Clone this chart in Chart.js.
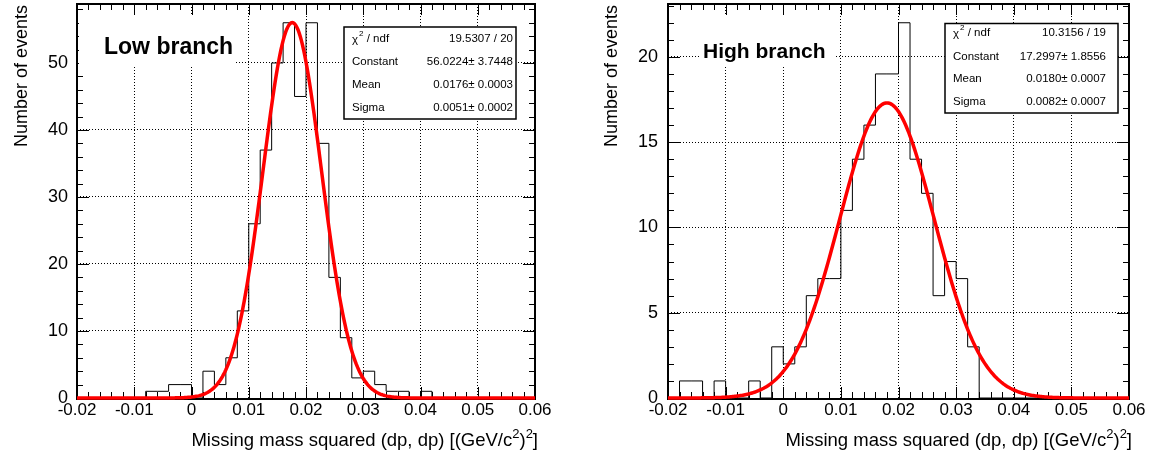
<!DOCTYPE html>
<html>
<head>
<meta charset="utf-8">
<script src="https://cdn.jsdelivr.net/npm/chart.js@4.4.1/dist/chart.umd.min.js"></script>
<style>
  html, body { margin: 0; padding: 0; background: #fff; }
  #wrap { position: relative; width: 1163px; height: 455px; overflow: hidden; }
  canvas { position: absolute; top: 0; }
</style>
</head>
<body>
<div id="wrap">
  <canvas id="low" width="590" height="455" style="left:0px"></canvas>
  <canvas id="high" width="573" height="455" style="left:590px"></canvas>
</div>
<script>
// Histogram binning: 40 bins of 0.002 from -0.02 to 0.06
const binStart = -0.02;
const binWidth = 0.002;

// Event counts per bin
const lowCounts  = [0,0,0,0,0,0,1,1,2,2, 0,4,2,6,13,26,37,50,56,45, 56,38,18,9,3,4,2,1,1,0, 1,0,0,0,0,0,0,0,0,0];
const highCounts = [0,1,1,0,1,0,0,1,0,3, 2,3,6,7,7,11,14,16,19,19, 22,14,12,6,8,7,3,0,0,0, 0,0,0,0,0,0,0,0,0,0];

// Gaussian fit results
const lowFit  = { constant: 56.0224, mean: 0.0176, sigma: 0.0051 };
const highFit = { constant: 17.2997, mean: 0.0180, sigma: 0.0082 };

// Fit statistics boxes
const lowStats  = [['chi2', '19.5307 / 20'], ['Constant', '56.0224\u00b1 3.7448'], ['Mean', '0.0176\u00b1 0.0003'], ['Sigma', '0.0051\u00b1 0.0002']];
const highStats = [['chi2', '10.3156 / 19'], ['Constant', '17.2997\u00b1 1.8556'], ['Mean', '0.0180\u00b1 0.0007'], ['Sigma', '0.0082\u00b1 0.0007']];

// Axis ticks
const xTickValues = [-0.02, -0.01, 0, 0.01, 0.02, 0.03, 0.04, 0.05, 0.06];
const xTickLabels = ['-0.02', '-0.01', '0', '0.01', '0.02', '0.03', '0.04', '0.05', '0.06'];
const lowYTickValues  = [0, 10, 20, 30, 40, 50];
const lowYTickLabels  = ['0', '10', '20', '30', '40', '50'];
const highYTickValues = [0, 5, 10, 15, 20];
const highYTickLabels = ['0', '5', '10', '15', '20'];

const FONT = '"Liberation Sans", Arial, Helvetica, sans-serif';

function histogramPoints(counts) {
  const pts = [{ x: binStart, y: 0 }];
  counts.forEach((c, i) => pts.push({ x: binStart + i * binWidth, y: c }));
  const end = binStart + counts.length * binWidth;
  pts.push({ x: end, y: counts[counts.length - 1] });
  pts.push({ x: end, y: 0 });
  return pts;
}

function gaussianPoints(fit, lo, hi, n) {
  const pts = [];
  for (let i = 0; i <= n; i++) {
    const x = lo + (hi - lo) * i / n;
    const t = (x - fit.mean) / fit.sigma;
    pts.push({ x: x, y: fit.constant * Math.exp(-0.5 * t * t) });
  }
  return pts;
}

// Frame and inward ticks on all four sides
function drawFrame(chart, p) {
  const { ctx, chartArea: a, scales: { x, y } } = chart;
  ctx.save();
  ctx.strokeStyle = '#000';
  ctx.lineWidth = 1;
  ctx.beginPath();
  const nx = Math.round((p.xMax - p.xMin) / p.xMinor);
  for (let k = 0; k <= nx; k++) {
    const v = p.xMin + k * p.xMinor;
    const px = Math.round(x.getPixelForValue(v)) + 0.5;
    const len = (k % p.xPerMajor === 0) ? 11 : 6;
    ctx.moveTo(px, a.bottom); ctx.lineTo(px, a.bottom - len);
    ctx.moveTo(px, a.top); ctx.lineTo(px, a.top + len);
  }
  const ny = Math.floor(p.yMax / p.yMinor + 1e-9);
  for (let k = 0; k <= ny; k++) {
    const v = k * p.yMinor;
    const py = Math.round(y.getPixelForValue(v)) + 0.5;
    const len = (k % p.yPerMajor === 0) ? 12 : 6;
    ctx.moveTo(a.left, py); ctx.lineTo(a.left + len, py);
    ctx.moveTo(a.right, py); ctx.lineTo(a.right - len, py);
  }
  ctx.stroke();
  ctx.lineWidth = 2;
  ctx.strokeRect(a.left, a.top, a.right - a.left, a.bottom - a.top + 1);
  ctx.restore();
}

function drawStatBox(ctx, p, rows) {
  const b = p.stat;
  ctx.save();
  ctx.fillStyle = '#fff';
  ctx.fillRect(b.left, b.top, b.right - b.left, b.bottom - b.top);
  ctx.strokeStyle = '#000';
  ctx.lineWidth = 1.5;
  ctx.strokeRect(b.left, b.top, b.right - b.left, b.bottom - b.top);
  ctx.fillStyle = '#000';
  ctx.textBaseline = 'middle';
  rows.forEach((r, i) => {
    const yy = b.rows[i];
    ctx.font = b.fontSize + 'px ' + FONT;
    ctx.textAlign = 'left';
    if (r[0] === 'chi2') {
      ctx.fillText('\u03c7', b.labelX, yy + 1);
      const w1 = ctx.measureText('\u03c7').width;
      ctx.font = (b.fontSize * 0.7) + 'px ' + FONT;
      ctx.fillText('2', b.labelX + w1 + 1, yy - 5);
      const w2 = ctx.measureText('2').width;
      ctx.font = b.fontSize + 'px ' + FONT;
      ctx.fillText(' / ndf', b.labelX + w1 + w2 + 1, yy);
    } else {
      ctx.fillText(r[0], b.labelX, yy);
    }
    ctx.textAlign = 'right';
    ctx.fillText(r[1], b.valueRight, yy);
  });
  ctx.restore();
}

function drawTitles(ctx, p) {
  ctx.save();
  // branch label on a white pad
  ctx.fillStyle = '#fff';
  ctx.fillRect(p.label.box[0], p.label.box[1], p.label.box[2] - p.label.box[0], p.label.box[3] - p.label.box[1]);
  ctx.fillStyle = '#000';
  ctx.font = 'bold ' + p.label.size + 'px ' + FONT;
  ctx.textAlign = 'left';
  ctx.textBaseline = 'alphabetic';
  ctx.fillText(p.label.text, p.label.x, p.label.y);

  // y axis title
  ctx.save();
  ctx.translate(p.yTitle.x, p.yTitle.y);
  ctx.rotate(-Math.PI / 2);
  ctx.font = p.yTitle.size + 'px ' + FONT;
  ctx.textAlign = 'left';
  ctx.fillText('Number of events', 0, 0);
  ctx.restore();

  // x axis title, right aligned, with superscripts
  const big = p.xTitle.size + 'px ' + FONT;
  const small = Math.round(p.xTitle.size * 0.68) + 'px ' + FONT;
  const parts = [
    ['Missing mass squared (dp, dp) [(GeV/c', big, 0],
    ['2', small, -8],
    [')', big, 0],
    ['2', small, -8],
    [']', big, 0]
  ];
  let total = 0;
  parts.forEach(pt => { ctx.font = pt[1]; total += ctx.measureText(pt[0]).width; });
  let cx = p.xTitle.right - total;
  ctx.textAlign = 'left';
  parts.forEach(pt => {
    ctx.font = pt[1];
    ctx.fillText(pt[0], cx, p.xTitle.y + pt[2]);
    cx += ctx.measureText(pt[0]).width;
  });
  ctx.restore();
}

function makePanel(id, counts, fit, stats, yTickValues, yTickLabels, p) {
  const panelPlugin = {
    id: 'panel_' + id,
    beforeDatasetsDraw(chart) { drawFrame(chart, p); },
    afterDatasetsDraw(chart) {
      drawStatBox(chart.ctx, p, stats);
      drawTitles(chart.ctx, p);
    }
  };
  return new Chart(document.getElementById(id), {
    type: 'line',
    data: {
      datasets: [
        {
          data: histogramPoints(counts),
          stepped: 'before',
          borderColor: '#000',
          borderWidth: 1,
          pointRadius: 0,
          fill: false,
          clip: false,
          order: 2
        },
        {
          data: gaussianPoints(fit, p.xMin, p.xMax, 400),
          borderColor: '#ff0000',
          borderWidth: 3.5,
          pointRadius: 0,
          fill: false,
          tension: 0,
          clip: false,
          order: 1
        }
      ]
    },
    options: {
      responsive: false,
      animation: false,
      devicePixelRatio: 1,
      events: [],
      layout: { padding: { left: 0, top: p.padTop, right: p.padRight, bottom: 0 } },
      plugins: { legend: { display: false }, tooltip: { enabled: false } },
      scales: {
        x: {
          type: 'linear',
          min: p.xMin,
          max: p.xMax,
          afterBuildTicks: s => { s.ticks = xTickValues.map(v => ({ value: v })); },
          afterFit: s => { s.height = p.xScaleHeight; s.paddingLeft = 0; s.paddingRight = 0; },
          ticks: {
            callback: (v, i) => xTickLabels[i],
            font: { family: FONT, size: p.xTickSize },
            color: '#000',
            padding: p.xTickPad,
            autoSkip: false,
            maxRotation: 0,
            minRotation: 0
          },
          grid: { color: '#000', lineWidth: 1, drawTicks: false },
          border: { display: false, dash: [1, 2] }
        },
        y: {
          type: 'linear',
          min: 0,
          max: p.yMax,
          afterBuildTicks: s => { s.ticks = yTickValues.map(v => ({ value: v })); },
          afterFit: s => { s.width = p.yScaleWidth; s.paddingTop = 0; s.paddingBottom = 0; },
          ticks: {
            callback: (v, i) => yTickLabels[i],
            font: { family: FONT, size: p.yTickSize },
            color: '#000',
            padding: p.yTickPad,
            autoSkip: false
          },
          grid: { color: '#000', lineWidth: 1, drawTicks: false },
          border: { display: false, dash: [1, 2] }
        }
      }
    },
    plugins: [panelPlugin]
  });
}

makePanel('low', lowCounts, lowFit, lowStats, lowYTickValues, lowYTickLabels, {
  xMin: -0.02, xMax: 0.06, xMinor: 0.002, xPerMajor: 5,
  yMax: 58.8, yMinor: 2, yPerMajor: 5,
  padTop: 4, padRight: 55, xScaleHeight: 57, yScaleWidth: 77,
  xTickSize: 17, yTickSize: 18, xTickPad: 2, yTickPad: 9,
  stat: { left: 344, right: 516, top: 27, bottom: 119, labelX: 352, valueRight: 513,
          rows: [38.5, 61.5, 85, 108], fontSize: 11.5 },
  label: { text: 'Low branch', size: 23, x: 104, y: 54, box: [79, 16, 236, 66] },
  yTitle: { x: 26.5, y: 147, size: 18 },
  xTitle: { right: 538, y: 446, size: 18.5 }
});

makePanel('high', highCounts, highFit, highStats, highYTickValues, highYTickLabels, {
  xMin: -0.02, xMax: 0.06, xMinor: 0.002, xPerMajor: 5,
  yMax: 23.1, yMinor: 1, yPerMajor: 5,
  padTop: 4, padRight: 34, xScaleHeight: 57, yScaleWidth: 78,
  xTickSize: 17, yTickSize: 18, xTickPad: 2, yTickPad: 10,
  stat: { left: 355, right: 528, top: 23.5, bottom: 113, labelX: 363, valueRight: 516,
          rows: [32.5, 56.5, 78.5, 102], fontSize: 11.5 },
  label: { text: 'High branch', size: 21, x: 113, y: 57.5, box: [110, 16, 245, 65] },
  yTitle: { x: 26.5, y: 147, size: 18 },
  xTitle: { right: 542, y: 446, size: 18.5 }
});
</script>
</body>
</html>
